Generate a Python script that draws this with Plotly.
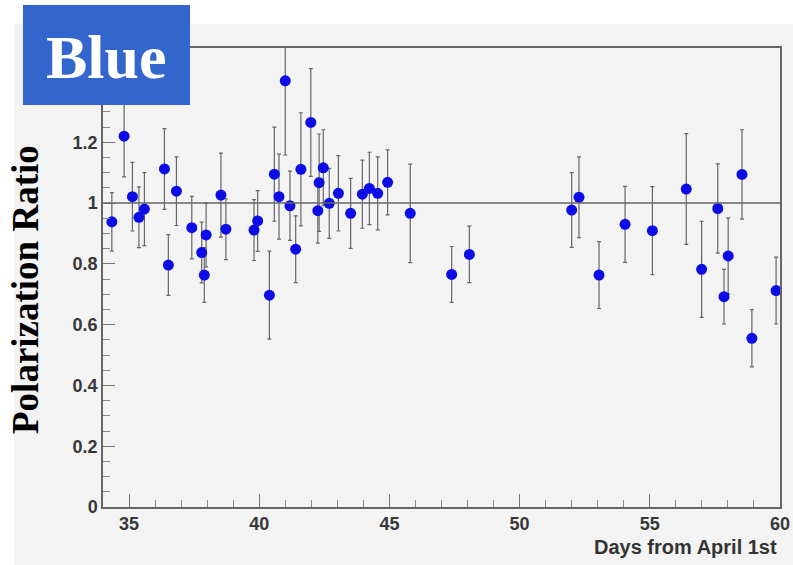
import plotly.graph_objects as go

days = [34.34, 34.81, 35.13, 35.38, 35.59, 36.36, 36.51, 36.82, 37.41, 37.79,
        37.96, 37.89, 38.53, 38.72, 39.80, 39.94, 40.39, 40.58, 40.76, 41.00,
        41.18, 41.40, 41.60, 41.98, 42.30, 42.25, 42.46, 42.69, 43.04, 43.51,
        43.96, 44.23, 44.55, 44.93, 45.80, 47.39, 48.07, 52.00, 52.28, 53.05,
        54.05, 55.10, 56.40, 56.99, 57.61, 57.85, 58.01, 58.54, 58.92, 59.85]
ratio = [0.938, 1.220, 1.021, 0.953, 0.980, 1.112, 0.796, 1.039, 0.919, 0.837,
         0.895, 0.763, 1.026, 0.914, 0.911, 0.941, 0.697, 1.095, 1.021, 1.402,
         0.991, 0.848, 1.111, 1.265, 1.067, 0.975, 1.116, 0.999, 1.032, 0.966,
         1.029, 1.048, 1.032, 1.068, 0.966, 0.765, 0.831, 0.977, 1.019, 0.763,
         0.930, 0.909, 1.046, 0.782, 0.982, 0.692, 0.826, 1.094, 0.555, 0.712]
err = [0.096, 0.134, 0.113, 0.100, 0.120, 0.133, 0.100, 0.113, 0.103, 0.100,
       0.105, 0.090, 0.138, 0.100, 0.100, 0.100, 0.145, 0.155, 0.140, 0.244,
       0.114, 0.110, 0.186, 0.177, 0.160, 0.107, 0.125, 0.115, 0.124, 0.115,
       0.112, 0.119, 0.120, 0.107, 0.162, 0.092, 0.093, 0.123, 0.133, 0.110,
       0.125, 0.145, 0.182, 0.158, 0.147, 0.090, 0.125, 0.147, 0.094, 0.110]

ytick_vals = [0, 0.2, 0.4, 0.6, 0.8, 1.0, 1.2]
ytick_text = ["0", "0.2", "0.4", "0.6", "0.8", "1", "1.2"]
xtick_vals = [35, 40, 45, 50, 55, 60]
xtick_text = ["35", "40", "45", "50", "55", "60"]

W, H = 793, 565
L, R, T, B = 103, 13, 48, 58
pw, ph = W - L - R, H - T - B

def px(xp):
    return (xp - L) / pw

def py(yp):
    return (H - B - yp) / ph

fig = go.Figure()
fig.add_trace(go.Scatter(
    x=days, y=ratio, mode="markers",
    marker=dict(size=11, color="#0c0ce6", line=dict(width=0)),
    error_y=dict(type="data", array=err, visible=True, color="#666666",
                 thickness=1.2, width=2),
    cliponaxis=True, showlegend=False,
))

tickfont = dict(family="Liberation Sans", size=18, color="#383838", weight="bold")

fig.update_layout(
    width=W, height=H,
    margin=dict(l=L, r=R, t=T, b=B, autoexpand=False),
    paper_bgcolor="white",
    plot_bgcolor="#f3f3f3",
    xaxis=dict(range=[34, 60], tickvals=xtick_vals, ticktext=xtick_text,
               ticks="inside", ticklen=13, tickcolor="#777", tickwidth=1,
               minor=dict(dtick=1, tick0=34, ticks="inside", ticklen=7, tickcolor="#888"),
               showgrid=False, zeroline=False, showline=True, linecolor="#666",
               linewidth=1.5, mirror=True, tickfont=tickfont, automargin=False),
    yaxis=dict(range=[0, 1.51], tickvals=ytick_vals, ticktext=ytick_text,
               ticks="inside", ticklen=12, tickcolor="#777", tickwidth=1,
               minor=dict(dtick=0.05, tick0=0, ticks="inside", ticklen=7, tickcolor="#888"),
               showgrid=False, zeroline=False, showline=True, linecolor="#666",
               linewidth=1.5, mirror=True, tickfont=tickfont, automargin=False),
)

# outer gray canvas
fig.add_shape(type="rect", xref="paper", yref="paper",
              x0=px(14), x1=px(793), y0=py(565), y1=py(24),
              fillcolor="#f3f3f3", line=dict(width=0), layer="below")
# reference line at 1
fig.add_hline(y=1, line=dict(color="#666666", width=1.5))
# Blue label box
fig.add_shape(type="rect", xref="paper", yref="paper",
              x0=px(23), x1=px(190), y0=py(105), y1=py(5),
              fillcolor="#3366cc", line=dict(width=0), layer="above")
fig.add_annotation(text="Blue", xref="paper", yref="paper",
                   x=px(106.5), y=py(57), xanchor="center", yanchor="middle",
                   showarrow=False,
                   font=dict(family="Liberation Serif", size=62, color="white", weight="bold"))
# y title
fig.add_annotation(text="Polarization Ratio", xref="paper", yref="paper",
                   x=px(25), y=py(290), xanchor="center", yanchor="middle",
                   textangle=-90, showarrow=False,
                   font=dict(family="Liberation Serif", size=37, color="black", weight="bold"))
# x title
fig.add_annotation(text="Days from April 1st", xref="paper", yref="paper",
                   x=px(779), y=py(547), xanchor="right", yanchor="middle",
                   showarrow=False,
                   font=dict(family="Liberation Sans", size=20, color="#333333", weight="bold"))

fig.write_html("out.html")
